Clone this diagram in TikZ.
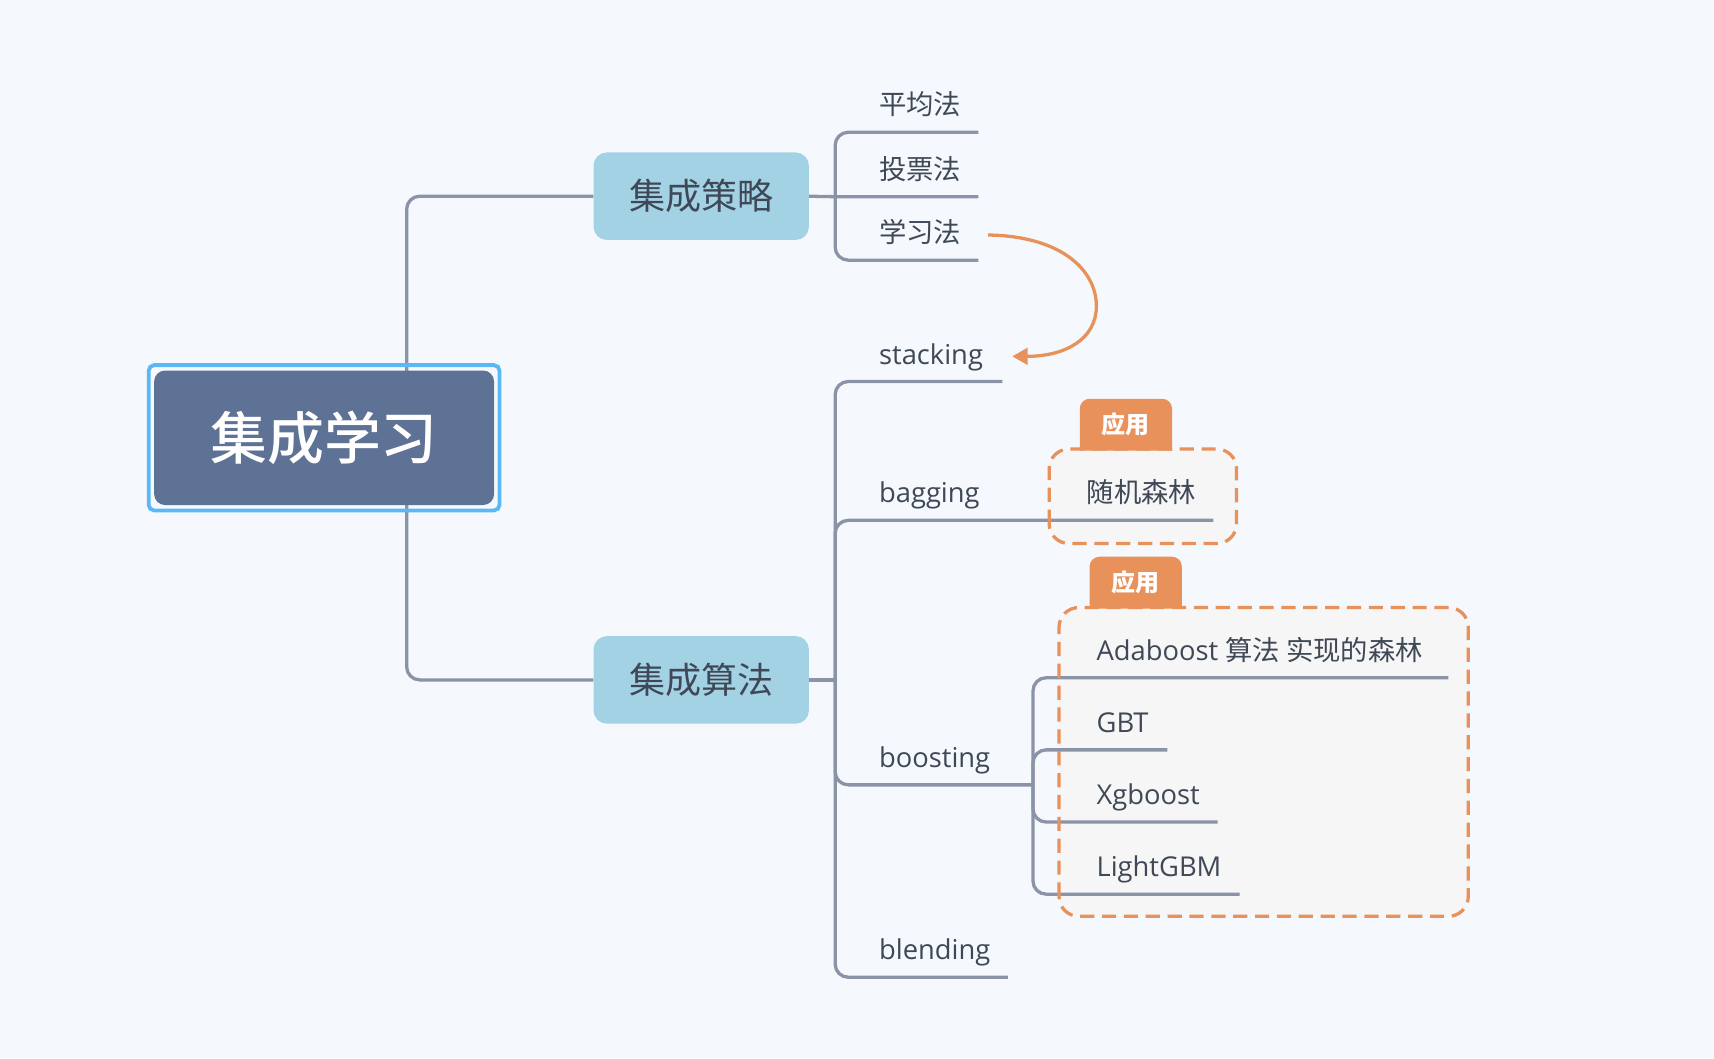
\documentclass[tikz,border=0pt]{standalone}
\usepackage{fontspec}
\setmainfont{Open Sans}
\newfontfamily\cjk{Noto Sans CJK SC}
\newfontfamily\cjkm{Noto Sans CJK SC Medium}
\usetikzlibrary{arrows.meta}
\definecolor{bgc}{HTML}{F5F9FD}
\definecolor{linec}{HTML}{8A94A6}
\definecolor{txt}{HTML}{3F4856}
\definecolor{rootc}{HTML}{5E7296}
\definecolor{rootb}{HTML}{5BB8F5}
\definecolor{subc}{HTML}{A4D2E5}
\definecolor{orng}{HTML}{E8915A}
\definecolor{boxf}{HTML}{F6F6F6}
\begin{document}
\begin{tikzpicture}[x=1pt,y=-1pt,
  conn/.style={draw=linec,line width=3pt,rounded corners=12pt},
  lbl/.style={anchor=base west,inner sep=0pt,text=txt,font=\fontsize{25}{30}\selectfont},
  subbox/.style={fill=subc,rounded corners=12pt,minimum width=197pt,minimum height=80pt,inner sep=0pt,text=txt,font=\cjk\fontsize{33}{40}\selectfont},
  dboxfill/.style={fill=boxf,rounded corners=18pt,inner sep=0pt},
  dborder/.style={draw=orng,line width=3pt,dash pattern=on 13pt off 7pt,rounded corners=18pt},
  tabshape/.style={minimum width=84pt,minimum height=47pt,inner sep=0pt},
  tabtxt/.style={inner sep=0pt,text=white,font=\cjk\bfseries\fontsize{22}{26}\selectfont},
  relarrow/.style={draw=orng,line width=3pt,-{Triangle[length=14pt,width=15pt]}}]
\fill[bgc] (0,0) rectangle (1568,968);
\useasboundingbox (0,0) rectangle (1568,968);

% dashed application boxes (fill)
\node[dboxfill,minimum width=171pt,minimum height=86pt] (d1) at (1045.5,454) {};
\node[dboxfill,minimum width=374pt,minimum height=282pt] (d2) at (1156,697) {};

% sub topics
\node[subbox] (s1) at (641.5,179.5) {集成策略};
\node[subbox] (s2) at (641.5,622) {集成算法};

% coordinates
\coordinate (trunk) at (372,400);
\coordinate (b1) at (764,180);
\coordinate (b2) at (764,622);
\coordinate (b3) at (945,718);
\coordinate (e1) at (895,121);
\coordinate (e2) at (895,180);
\coordinate (e3) at (895,238);
\coordinate (e4) at (917,349);
\coordinate (e5) at (1110,476);
\coordinate (e7) at (922,894);
\coordinate (f1) at (1325,620);
\coordinate (f2) at (1068,686);
\coordinate (f3) at (1114,752);
\coordinate (f4) at (1134,818);

% connectors
\draw[conn] (trunk) |- (s1.west);
\draw[conn] (trunk) |- (s2.west);
\draw[conn] (s1.east) -- (b1) -- (e2);
\draw[conn] (b1) |- (e1);
\draw[conn] (b1) |- (e3);
\draw[conn] (s2.east) -- (b2);
\draw[conn] (b2) |- (e4);
\draw[conn] (b2) |- (e5);
\draw[conn] (b2) |- (b3);
\draw[conn] (b2) |- (e7);
\draw[conn] (b3) |- (f1);
\draw[conn] (b3) |- (f2);
\draw[conn] (b3) |- (f3);
\draw[conn] (b3) |- (f4);

% dashed borders
\draw[dborder] (d1.south west) rectangle (d1.north east);
\draw[dborder] (d2.south west) rectangle (d2.north east);

% root
\node[fill=rootc,rounded corners=10pt,minimum width=311pt,minimum height=123pt,inner sep=0pt,
      text=white,font=\cjkm\fontsize{52}{60}\selectfont] (root) at (296.5,400.5) {集成学习};
\draw[rootb,line width=3.5pt,rounded corners=5pt]
  ([shift={(-4.75,4.75)}]root.south west) rectangle ([shift={(4.75,-4.75)}]root.north east);

% tabs
\node[tabshape] (t1) at (1030,388.5) {};
\fill[orng] (t1.south west) {[rounded corners=9pt] -- (t1.north west) -- (t1.north east)} -- (t1.south east) -- cycle;
\node[tabtxt] (t1l) at (t1.center) {应用};
\node[tabshape] (t2) at (1039,533) {};
\fill[orng] (t2.south west) {[rounded corners=9pt] -- (t2.north west) -- (t2.north east)} -- (t2.south east) -- cycle;
\node[tabtxt] (t2l) at (t2.center) {应用};

% labels
\node[lbl] (l1) at (804,105) {\cjk 平均法};
\node[lbl] (l2) at (804,164) {\cjk 投票法};
\node[lbl] (l3) at (804,222) {\cjk 学习法};
\node[lbl] (l4) at (804,333) {stacking};
\node[lbl] (l5) at (804,460) {bagging};
\node[lbl] (l6) at (804,702) {boosting};
\node[lbl] (l7) at (804,878) {blending};
\node[lbl] (r1) at (994,460) {\cjk 随机森林};
\node[lbl] (m1) at (1003,604) {Adaboost {\cjk 算法 实现的森林}};
\node[lbl] (m2) at (1003,670) {GBT};
\node[lbl] (m3) at (1003,736) {Xgboost};
\node[lbl] (m4) at (1003,802) {LightGBM};

% relation arrow
\coordinate (a1) at (904,215);
\coordinate (a2) at (926,326);
\draw[relarrow] (a1) .. controls (972,216) and (1003,248) .. (1003,280)
  .. controls (1003,310) and (975,326) .. (a2);
\end{tikzpicture}
\end{document}
